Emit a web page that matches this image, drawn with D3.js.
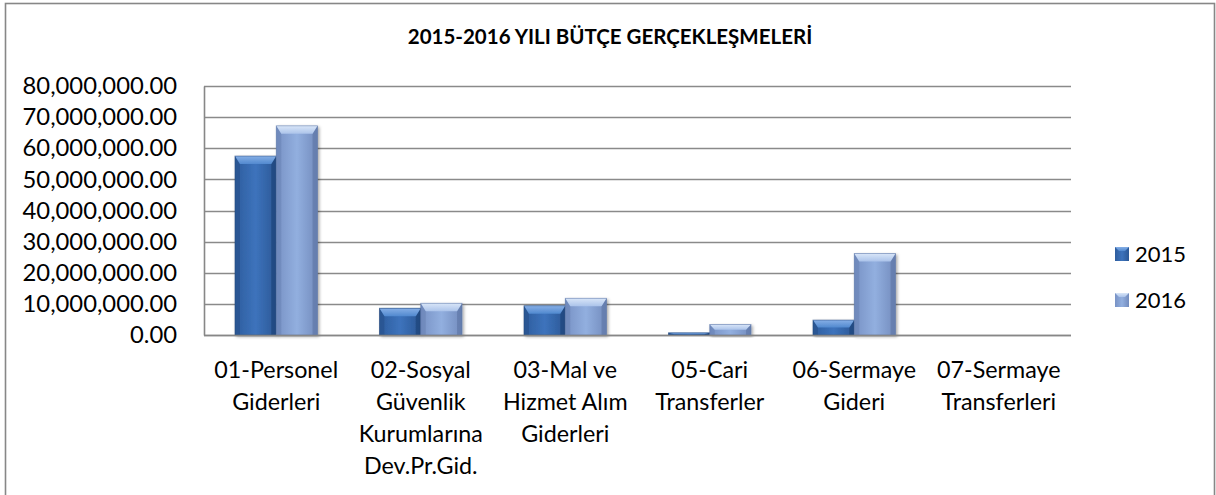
<!DOCTYPE html>
<html><head><meta charset="utf-8">
<script src="https://cdn.jsdelivr.net/npm/d3@7"></script>
<style>
html,body{margin:0;padding:0;background:#fff;}
svg{display:block;font-family:Lato,"Open Sans",sans-serif;}
</style></head>
<body>
<svg id="chart" width="1216" height="495"></svg>
<script>
const title = "2015-2016 YILI BÜTÇE GERÇEKLEŞMELERİ";
const categories = [
  ["01-Personel","Giderleri"],
  ["02-Sosyal","Güvenlik","Kurumlarına","Dev.Pr.Gid."],
  ["03-Mal ve","Hizmet Alım","Giderleri"],
  ["05-Cari","Transferler"],
  ["06-Sermaye","Gideri"],
  ["07-Sermaye","Transferleri"]
];
const seriesNames = ["2015","2016"];
const values2015 = [57500000, 8600000, 9400000, 700000, 4800000, 0];
const values2016 = [67200000, 10200000, 11800000, 3400000, 26200000, 0];
const yTicks = [0,10000000,20000000,30000000,40000000,50000000,60000000,70000000,80000000];

const svg = d3.select("#chart");
const m = {left:204, right:1071, top:86, bottom:335};

// outer border
svg.append("rect").attr("x",5.5).attr("y",3.5).attr("width",1209).attr("height",520)
  .attr("fill","#fff").attr("stroke","#878787").attr("stroke-width",1.6);

svg.append("text").attr("x",610).attr("y",44).attr("text-anchor","middle")
  .attr("font-weight","bold").attr("font-size",20.5).attr("fill","#000").text(title);

const defs = svg.append("defs");
const palettes = [
  {face:["#2e5d9e","#3d73bc","#2b5896"], top:["#86afe6","#5189cf"], side:"#244d86", bottom:"#1f4478"},
  {face:["#7892c5","#92afdf","#728bbd"], top:["#d9e6f8","#abc3ea"], side:"#6680b2", bottom:"#5d76a6"}
];
palettes.forEach((p,i)=>{
  const g = defs.append("linearGradient").attr("id","face"+i).attr("x1","0").attr("x2","1").attr("y1","0").attr("y2","0");
  g.append("stop").attr("offset","0").attr("stop-color",p.face[0]);
  g.append("stop").attr("offset","0.5").attr("stop-color",p.face[1]);
  g.append("stop").attr("offset","1").attr("stop-color",p.face[2]);
  const t = defs.append("linearGradient").attr("id","top"+i).attr("x1","0").attr("x2","0").attr("y1","0").attr("y2","1");
  t.append("stop").attr("offset","0").attr("stop-color",p.top[0]);
  t.append("stop").attr("offset","1").attr("stop-color",p.top[1]);
});
const sh = defs.append("filter").attr("id","shadow").attr("x","-20%").attr("y","-20%").attr("width","140%").attr("height","140%");
sh.append("feDropShadow").attr("dx",1.5).attr("dy",1.5).attr("stdDeviation",1.5).attr("flood-color","#000").attr("flood-opacity",0.35);

// Excel-like gap width 150%: group = 2 bars, gap = 1.5 bar
const xCat = d3.scaleBand().domain(d3.range(categories.length)).range([m.left,m.right]).padding(0);
const x1 = d3.scaleBand().domain(seriesNames).range([0, xCat.bandwidth()*2/3.5]);
const y = d3.scaleLinear().domain([0,80000000]).range([m.bottom,m.top]);

// gridlines
svg.append("g").selectAll("line").data(yTicks).join("line")
  .attr("x1",m.left).attr("x2",m.right)
  .attr("y1",d=>Math.round(y(d))+0.5).attr("y2",d=>Math.round(y(d))+0.5)
  .attr("stroke","#8a8a8a").attr("stroke-width",1.3);

// y axis
const yAxis = d3.axisLeft(y).tickValues(yTicks).tickFormat(d3.format(",.2f")).tickSize(0).tickPadding(27);
const ya = svg.append("g").attr("transform",`translate(${m.left},0)`).call(yAxis);
ya.select(".domain").attr("stroke","#878787").attr("stroke-width",1.6);
ya.selectAll("text").attr("font-size",23.8).attr("fill","#000").attr("font-family","Lato");

// bars
const data = [values2015, values2016];
const groups = svg.append("g");
categories.forEach((c,i)=>{
  const gx = xCat(i) + xCat.bandwidth()*0.75/3.5;
  data.forEach((vals,s)=>{
    const v = vals[i];
    if (!v) return;
    const bx = gx + x1(seriesNames[s]);
    const bw = x1.bandwidth();
    const by = y(v);
    const bh = y(0)-by;
    const g = groups.append("g").attr("filter","url(#shadow)");
    g.append("rect").attr("x",bx).attr("y",by).attr("width",bw).attr("height",bh).attr("fill",`url(#face${s})`);
    const bv = Math.min(8, bh/2), sv = Math.min(5, bw/2);
    g.append("polygon").attr("points",[[bx,by],[bx+sv,by+bv],[bx+sv,by+bh],[bx,by+bh]].join(" ")).attr("fill",palettes[s].side).attr("opacity",0.5);
    g.append("polygon").attr("points",[[bx+bw,by],[bx+bw-sv,by+bv],[bx+bw-sv,by+bh],[bx+bw,by+bh]].join(" ")).attr("fill",palettes[s].bottom).attr("opacity",0.65);
    g.append("polygon").attr("points",[[bx,by],[bx+bw,by],[bx+bw-sv,by+bv],[bx+sv,by+bv]].join(" ")).attr("fill",`url(#top${s})`);
    g.append("rect").attr("x",bx).attr("y",by).attr("width",bw).attr("height",bh).attr("fill","none").attr("stroke",palettes[s].bottom).attr("stroke-width",0.8).attr("stroke-opacity",0.6);
  });
});

// x axis baseline
svg.append("line").attr("x1",m.left).attr("x2",m.right).attr("y1",m.bottom+0.5).attr("y2",m.bottom+0.5)
  .attr("stroke","#878787").attr("stroke-width",1.6);

// category labels
const cl = svg.append("g").attr("font-size",23.3).attr("fill","#000").attr("text-anchor","middle");
categories.forEach((lines,i)=>{
  const cx = xCat(i)+xCat.bandwidth()/2;
  const t = cl.append("text").attr("x",cx).attr("y",378);
  lines.forEach((ln,k)=>t.append("tspan").attr("x",cx).attr("dy",k?32:0).text(ln));
});

// legend
const leg = svg.append("g");
seriesNames.forEach((n,i)=>{
  const ly = 254 + i*46;
  const sz = 14, lx = 1115;
  leg.append("rect").attr("x",lx).attr("y",ly-7).attr("width",sz).attr("height",sz).attr("fill",`url(#face${i})`);
  leg.append("polygon").attr("points",[[lx,ly-7],[lx+sz,ly-7],[lx+sz-4,ly-3],[lx+4,ly-3]].join(" ")).attr("fill",`url(#top${i})`);
  leg.append("text").attr("x",1135).attr("y",ly+8).attr("font-size",22).attr("fill","#000").text(n);
});
</script>
</body></html>
